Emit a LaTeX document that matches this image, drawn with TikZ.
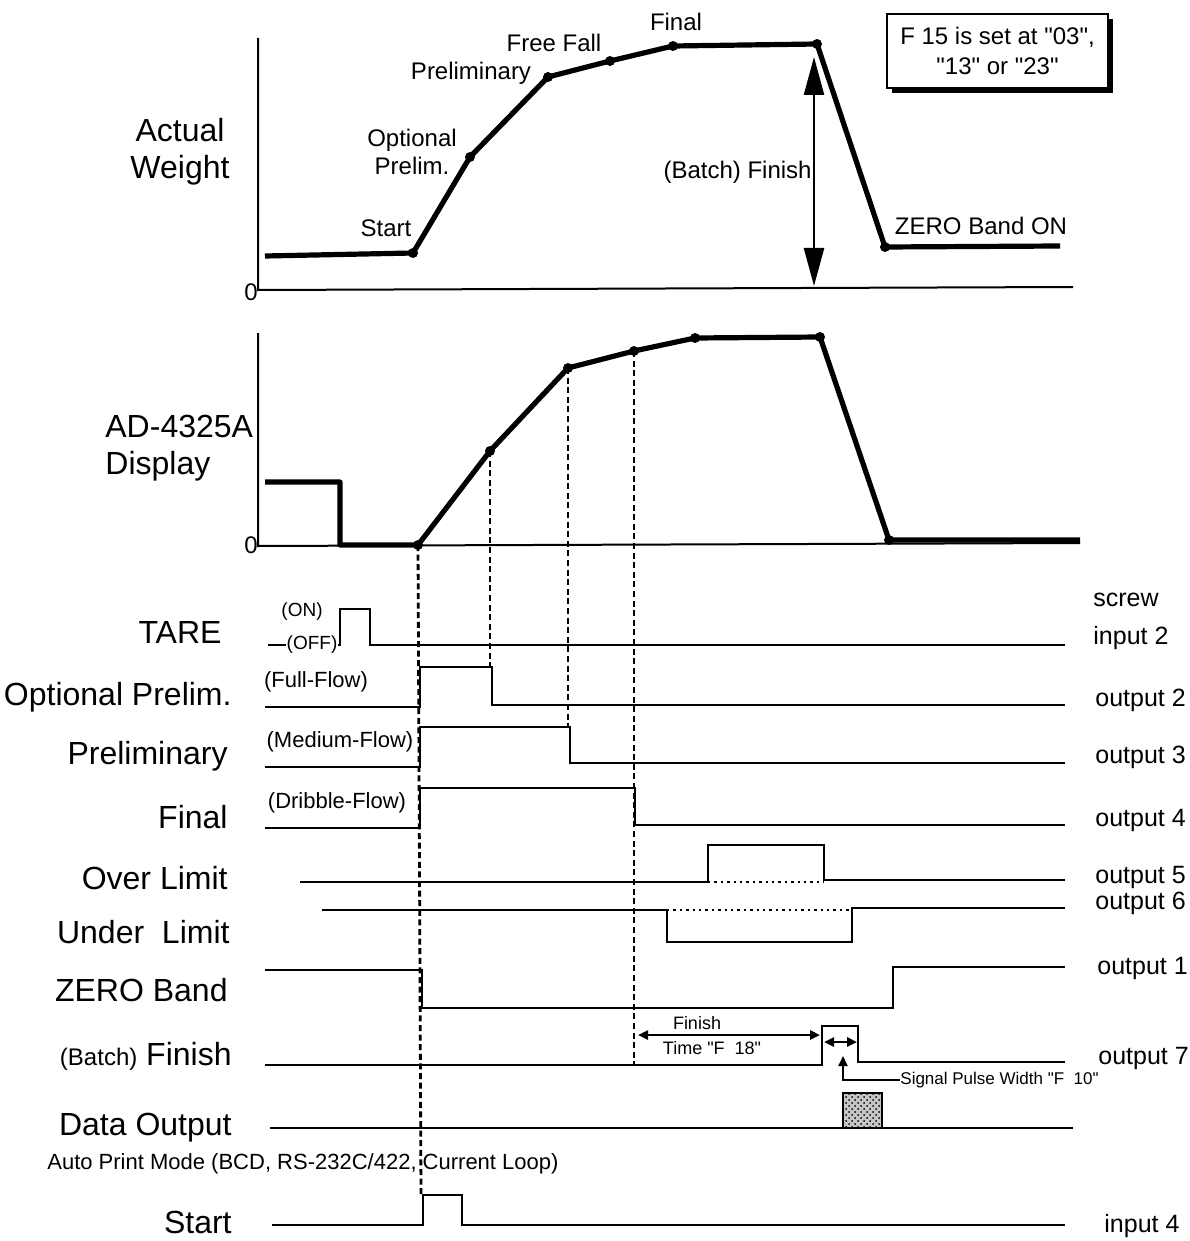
\documentclass[tikz,border=0pt]{standalone}
\usepackage{fontspec}
\setmainfont{Liberation Sans}
\usetikzlibrary{arrows.meta, shadows, patterns}
\newcommand{\qq}{\textquotedbl}

\begin{document}
\begin{tikzpicture}[x=0.5pt, y=-0.5pt,
    sidelbl/.style={font=\fontsize{16}{18.5}\selectfont, anchor=east, inner sep=0pt},
    portlbl/.style={font=\fontsize{12.5}{14}\selectfont, anchor=west, inner sep=0pt},
    plotlbl/.style={font=\fontsize{12}{14}\selectfont, inner sep=0pt},
    flowlbl/.style={font=\fontsize{11}{13}\selectfont, inner sep=0pt},
    minilbl/.style={font=\fontsize{9}{10}\selectfont, inner sep=0pt},
    axis/.style={line width=1pt},
    curve/.style={line width=2.6pt, line join=round},
    sig/.style={line width=1.2pt},
    guide/.style={line width=1.4pt, dash pattern=on 3pt off 1.8pt},
    dot/.style={circle, fill, inner sep=0pt, minimum size=5pt},
    bigtips/.style={{Triangle[length=19pt, width=10pt]}-{Triangle[length=19pt, width=10pt]}},
    smalltips/.style={{Triangle[length=5pt, width=4.5pt]}-{Triangle[length=5pt, width=4.5pt]}}]
  \useasboundingbox (0,0) rectangle (1189,1241);

  % ---- actual weight
  \draw[axis] (258,38) -- (258,290) -- (1073,287);
  \node[plotlbl, anchor=east] (w-zero) at (258,292) {0};
  \node[sidelbl, anchor=center, align=center] (w-title) at (180,152) {Actual\\Weight};
  \coordinate (w0) at (265,256);
  \coordinate (wS) at (413,253);
  \coordinate (wO) at (470,157);
  \coordinate (wP) at (548,77);
  \coordinate (wF) at (610,61);
  \coordinate (wL) at (673,46);
  \coordinate (wT) at (817,44);
  \coordinate (wZ) at (885,247);
  \coordinate (wE) at (1060,246);
  \draw[curve] (w0) -- (wS) -- (wO) -- (wP) -- (wF) -- (wL) -- (wT) -- (wZ) -- (wE);
  \foreach \p in {wS,wO,wP,wF,wL,wT,wZ}
    \node[dot] at (\p) {};
  \node[plotlbl] (w-final) at (676,22) {Final};
  \node[plotlbl] (w-free) at (554,43) {Free Fall};
  \node[plotlbl] (w-pre) at (471,73) {Preliminary};
  \node[plotlbl, align=center] (w-opt) at (412,152) {Optional\\Prelim.};
  \node[plotlbl] (w-start) at (386,228) {Start};
  \node[plotlbl, anchor=east] (w-finish) at (812,172) {(Batch) Finish};
  \node[plotlbl] (w-zband) at (981,226) {ZERO Band ON};
  \coordinate (fin-top) at (814,57);
  \coordinate (fin-bot) at (814,286);
  \draw[line width=1.2pt, bigtips] (fin-top) -- (fin-bot);
  \node[draw, line width=1pt, fill=white, minimum width=110.5pt, minimum height=37pt,
        align=center, font=\fontsize{12}{15}\selectfont,
        drop shadow={shadow xshift=2.5pt, shadow yshift=-2.5pt, opacity=1, fill=black}]
        (f15) at (997.5,51) {F 15 is set at \qq03\qq,\\\qq13\qq{} or \qq23\qq};

  % ---- display
  \draw[axis] (258,333) -- (258,546) -- (1080,543);
  \node[plotlbl, anchor=east] (d-zero) at (258,545) {0};
  \node[sidelbl, anchor=west, align=left] (d-title) at (105,448) {AD-4325A\\Display};
  \coordinate (d0) at (265,482);
  \coordinate (d1) at (340,482);
  \coordinate (d2) at (340,545);
  \coordinate (dS) at (418,545);
  \coordinate (dO) at (490,451);
  \coordinate (dP) at (568,368);
  \coordinate (dF) at (634,351);
  \coordinate (dL) at (695,338);
  \coordinate (dT) at (820,337);
  \coordinate (dZ) at (889,540);
  \coordinate (dE) at (1080,540);
  \draw[curve] (d0) -- (d1) -- (d2) -- (dS) -- (dO) -- (dP) -- (dF) -- (dL) -- (dT) -- (dZ) -- (dE);
  \foreach \p in {dS,dO,dP,dF,dL,dT,dZ}
    \node[dot] at (\p) {};

  % ---- guides
  \draw[guide] (dS) -- (421,1195);
  \draw[guide] (dO) -- (490,667);
  \draw[guide] (dP) -- (568,727);
  \draw[guide] (dF) -- (634,1065);

  % ---- timing rows
  \node[sidelbl, anchor=center] (tare) at (180,632) {TARE};
  \node[flowlbl, font=\fontsize{9.5}{11}\selectfont] (on) at (302,612) {(ON)};
  \node[flowlbl, font=\fontsize{9.5}{11}\selectfont] (off) at (312,645) {(OFF)};
  \draw[sig] (268,645) -- (off.west);
  \draw[sig] (off.east) -- (340,645) -- (340,609) -- (370,609) -- (370,645) -- (1065,645);

  \node[sidelbl] (optp) at (232,697) {Optional Prelim.};
  \node[flowlbl] (full) at (316,682) {(Full-Flow)};
  \draw[sig] (265,707) -- (420,707) -- (420,667) -- (492,667) -- (492,705) -- (1065,705);

  \node[sidelbl] (prel) at (228,756) {Preliminary};
  \node[flowlbl] (medium) at (340,742) {(Medium-Flow)};
  \draw[sig] (265,767) -- (420,767) -- (420,727) -- (570,727) -- (570,763) -- (1065,763);

  \node[sidelbl] (final) at (228,817) {Final};
  \node[flowlbl] (dribble) at (337,803) {(Dribble-Flow)};
  \draw[sig] (265,828) -- (420,828) -- (420,788) -- (635,788) -- (635,825) -- (1065,825);

  \node[sidelbl] (over) at (228,878) {Over Limit};
  \draw[sig] (300,882) -- (708,882) -- (708,845) -- (824,845) -- (824,880) -- (1065,880);
  \draw[sig, dotted] (708,882) -- (824,882);

  \node[sidelbl] (under) at (230,932) {Under\ \ Limit};
  \draw[sig] (322,910) -- (667,910) -- (667,942) -- (852,942) -- (852,908) -- (1065,908);
  \draw[sig, dotted] (667,910) -- (852,910);

  \node[sidelbl] (zband) at (228,990) {ZERO Band};
  \draw[sig] (265,970) -- (422,970) -- (422,1008) -- (893,1008) -- (893,967) -- (1065,967);

  \node[sidelbl] (batch) at (232,1056) {{\fontsize{12}{14}\selectfont(Batch)} Finish};
  \draw[sig] (265,1065) -- (822,1065) -- (822,1026) -- (858,1026) -- (858,1062) -- (1065,1062);
  \coordinate (ft-a) at (638,1035);
  \coordinate (ft-b) at (820,1035);
  \draw[sig, smalltips] (ft-a) -- (ft-b);
  \node[minilbl] (ft-top) at (697,1023) {Finish};
  \node[minilbl] (ft-low) at (712,1048) {Time \qq F\ \ 18\qq};
  \coordinate (pw-a) at (824,1042);
  \coordinate (pw-b) at (857,1042);
  \draw[sig, smalltips] (pw-a) -- (pw-b);
  \node[minilbl, anchor=west, font=\fontsize{8.5}{10}\selectfont] (pw) at (900,1080) {Signal Pulse Width \qq F\ \ 10\qq};
  \draw[line width=1pt, -{Triangle[length=5pt, width=4.5pt]}] (pw.west) -- (843,1080) -- (843,1056);

  \node[sidelbl] (data) at (232,1128) {Data Output};
  \draw[sig] (270,1128) -- (1073,1128);
  \draw[line width=0.8pt, preaction={fill=gray!45}, pattern=crosshatch dots] (843,1093) rectangle (882,1128);
  \node[flowlbl, anchor=west] (auto) at (47,1164) {Auto Print Mode (BCD, RS-232C/422, Current Loop)};

  \node[sidelbl] (start) at (232,1222) {Start};
  \draw[sig] (272,1225) -- (423,1225) -- (423,1195) -- (462,1195) -- (462,1225) -- (1065,1225);

  % ---- ports
  \node[portlbl] (screw) at (1093,600) {screw};
  \node[portlbl] (in2) at (1093,638) {input 2};
  \node[portlbl] (out2) at (1095,700) {output 2};
  \node[portlbl] (out3) at (1095,757) {output 3};
  \node[portlbl] (out4) at (1095,820) {output 4};
  \node[portlbl] (out5) at (1095,877) {output 5};
  \node[portlbl] (out6) at (1095,903) {output 6};
  \node[portlbl] (out1) at (1097,968) {output 1};
  \node[portlbl] (out7) at (1098,1058) {output 7};
  \node[portlbl] (in4) at (1104,1226) {input 4};
\end{tikzpicture}
\end{document}
